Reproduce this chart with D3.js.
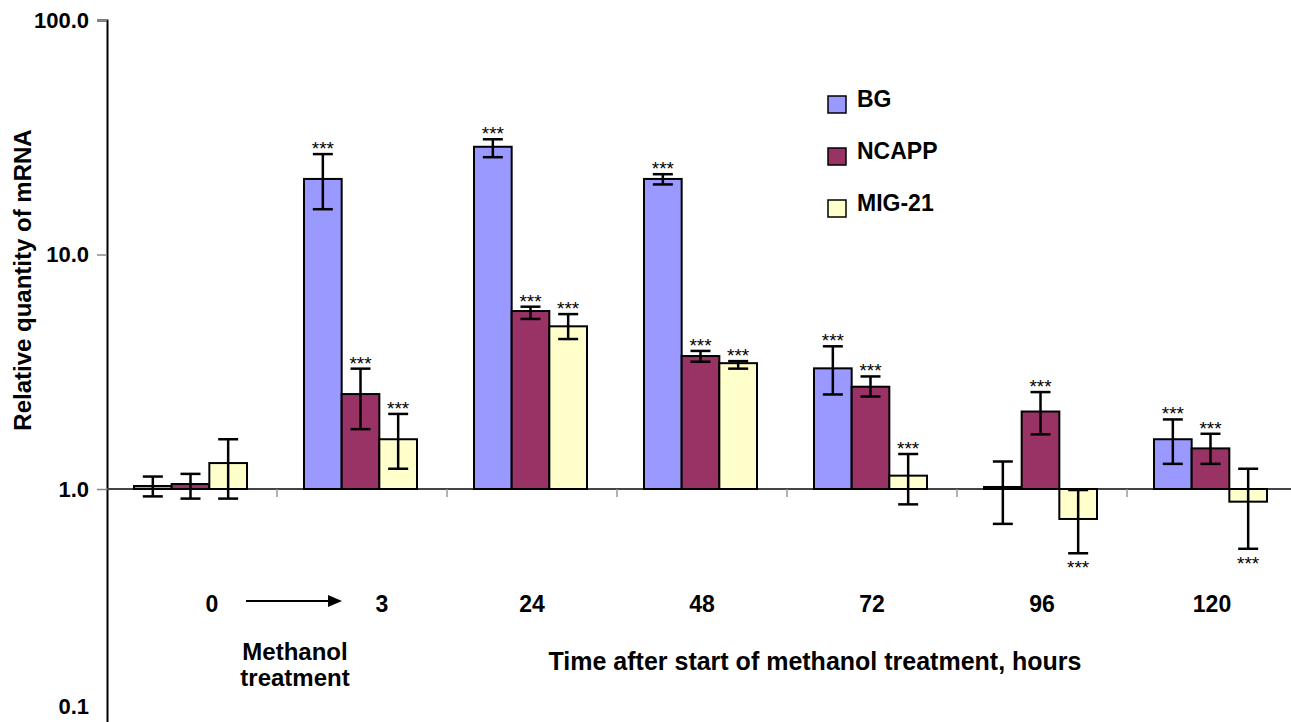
<!DOCTYPE html>
<html>
<head>
<meta charset="utf-8">
<script src="https://cdn.jsdelivr.net/npm/d3@7"></script>
<style>
  body { margin: 0; background: #fff; }
  text { font-family: Arial, "Liberation Sans", sans-serif; font-weight: bold; fill: #000; }
</style>
</head>
<body>
<svg id="chart" width="1291" height="722"></svg>
<script>
const hours = ["0", "3", "24", "48", "72", "96", "120"]
const series = ["BG", "NCAPP", "MIG-21"]
const colors = ["#9999ff", "#993366", "#ffffcc"]

// mean and error bar ends (log scale)
const bgMean  = [1.03, 21.0, 28.8, 21.0, 3.27, 1.02, 1.63]
const bgLow   = [0.93, 15.6, 26.0, 19.9, 2.53, 0.71, 1.28]
const bgHigh  = [1.13, 26.8, 31.0, 22.0, 4.06, 1.31, 1.98]
const ncMean  = [1.05, 2.54, 5.74, 3.69, 2.73, 2.14, 1.49]
const ncLow   = [0.91, 1.80, 5.31, 3.49, 2.48, 1.71, 1.28]
const ncHigh  = [1.16, 3.26, 5.99, 3.88, 3.02, 2.59, 1.72]
const migMean = [1.29, 1.63, 4.94, 3.44, 1.14, 0.745, 0.883]
const migLow  = [0.91, 1.22, 4.36, 3.26, 0.86, 0.532, 0.556]
const migHigh = [1.63, 2.09, 5.57, 3.51, 1.41, 0.99, 1.22]

// *** marks (p < 0.001)
const bgStars  = [false, true, true, true, true, false, true]
const ncStars  = [false, true, true, true, true, true, true]
const migStars = [false, true, true, true, true, true, true]

const yTicks = [0.1, 1, 10, 100]

const means = [bgMean, ncMean, migMean]
const lows = [bgLow, ncLow, migLow]
const highs = [bgHigh, ncHigh, migHigh]
const stars = [bgStars, ncStars, migStars]

const rows = []
hours.forEach(function(h, i){
    series.forEach(function(s, j){
        rows.push({hour: h, name: s, color: colors[j], v: means[j][i],
                   lo: lows[j][i], hi: highs[j][i], star: stars[j][i]})
    })
})

const svg = d3.select('#chart')

const x = d3.scaleBand().domain(hours).range([107, 1297])
const xs = d3.scaleBand().domain(series).range([27, 140])
const y = d3.scaleLog().domain([0.1, 100]).range([723.5, 20])

// y axis
const yAxis = svg.append('g')
    .attr('transform', 'translate(107,0)')
    .call(d3.axisLeft(y).tickValues(yTicks).tickFormat(d3.format('.1f')).tickSize(10).tickPadding(8))
yAxis.select('.domain').attr('stroke', '#000').attr('stroke-width', 2)
yAxis.selectAll('.tick line').attr('stroke', '#888').attr('stroke-width', 1.5)
yAxis.selectAll('.tick text')
    .style('font-size', '22px')
    .attr('dy', function(d){ return d === 0.1 ? '-0.45em' : '0.32em' })

// baseline at 1.0 and category ticks
svg.append('line')
    .attr('x1', 107).attr('x2', 1291)
    .attr('y1', y(1)).attr('y2', y(1))
    .attr('stroke', '#444').attr('stroke-width', 2)

svg.append('g')
    .selectAll('line')
    .data(hours.slice(1))
    .join('line')
    .attr('x1', function(d){ return x(d) })
    .attr('x2', function(d){ return x(d) })
    .attr('y1', y(1))
    .attr('y2', y(1) + 8)
    .attr('stroke', '#999')
    .attr('stroke-width', 1.5)

// bars grow up or down from 1.0
svg.append('g')
    .selectAll('rect')
    .data(rows)
    .join('rect')
    .attr('x', function(d){ return x(d.hour) + xs(d.name) })
    .attr('width', xs.bandwidth())
    .attr('y', function(d){ return Math.min(y(d.v), y(1)) })
    .attr('height', function(d){ return Math.abs(y(d.v) - y(1)) })
    .attr('fill', function(d){ return d.color })
    .attr('stroke', '#000')
    .attr('stroke-width', 2)

// error bars
const cx = function(d){ return x(d.hour) + xs(d.name) + xs.bandwidth() / 2 }
const err = svg.append('g')
    .attr('stroke', '#000')
    .attr('stroke-width', 2.5)
    .selectAll('g')
    .data(rows)
    .join('g')
err.append('line')
    .attr('x1', cx).attr('x2', cx)
    .attr('y1', function(d){ return y(d.lo) })
    .attr('y2', function(d){ return y(d.hi) })
err.append('line')
    .attr('x1', function(d){ return cx(d) - 10 })
    .attr('x2', function(d){ return cx(d) + 10 })
    .attr('y1', function(d){ return y(d.hi) })
    .attr('y2', function(d){ return y(d.hi) })
err.append('line')
    .attr('x1', function(d){ return cx(d) - 10 })
    .attr('x2', function(d){ return cx(d) + 10 })
    .attr('y1', function(d){ return y(d.lo) })
    .attr('y2', function(d){ return y(d.lo) })

// significance stars
svg.append('g')
    .selectAll('text')
    .data(rows.filter(function(d){ return d.star }))
    .join('text')
    .attr('x', cx)
    .attr('y', function(d){ return d.v >= 1 ? y(d.hi) + 1 : y(d.lo) + 21 })
    .attr('text-anchor', 'middle')
    .style('font-size', '19px')
    .style('font-weight', 'normal')
    .text('***')

// x tick labels (0 and 3 pushed right to leave room for the arrow)
svg.append('g')
    .selectAll('text')
    .data(hours)
    .join('text')
    .attr('x', function(d, i){ return x(d) + x.bandwidth() / 2 + (i < 2 ? 20 : 0) })
    .attr('y', 612)
    .attr('text-anchor', 'middle')
    .style('font-size', '23px')
    .text(function(d){ return d })

// arrow from 0 to 3
svg.append('line')
    .attr('x1', 246).attr('x2', 330)
    .attr('y1', 601).attr('y2', 601)
    .attr('stroke', '#000').attr('stroke-width', 2)
svg.append('path')
    .attr('d', 'M328,595 L342,601 L328,607 Z')
    .attr('fill', '#000')

svg.append('text')
    .attr('x', 295).attr('y', 660)
    .attr('text-anchor', 'middle')
    .style('font-size', '24px')
    .text('Methanol')
svg.append('text')
    .attr('x', 295).attr('y', 686)
    .attr('text-anchor', 'middle')
    .style('font-size', '24px')
    .text('treatment')

svg.append('text')
    .attr('x', 815).attr('y', 670)
    .attr('text-anchor', 'middle')
    .style('font-size', '25px')
    .text('Time after start of methanol treatment, hours')

svg.append('text')
    .attr('transform', 'translate(31,280) rotate(-90)')
    .attr('text-anchor', 'middle')
    .style('font-size', '24px')
    .text('Relative quantity of mRNA')

// legend
const legend = svg.append('g')
    .selectAll('g')
    .data(series)
    .join('g')
    .attr('transform', function(d, i){ return 'translate(828,' + (96 + i * 52) + ')' })
legend.append('rect')
    .attr('width', 18).attr('height', 17)
    .attr('fill', function(d, i){ return colors[i] })
    .attr('stroke', '#000').attr('stroke-width', 1.5)
legend.append('text')
    .attr('x', 29).attr('y', 11)
    .style('font-size', '23px')
    .text(function(d){ return d })
</script>
</body>
</html>
